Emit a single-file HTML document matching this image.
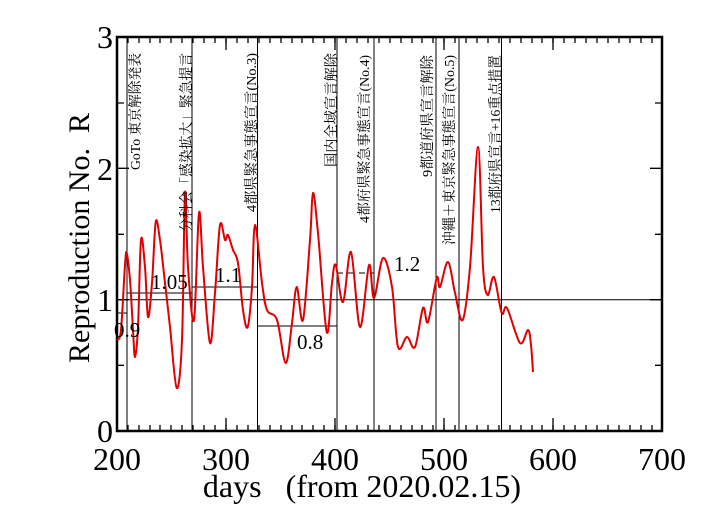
<!DOCTYPE html>
<html><head><meta charset="utf-8"><style>body{margin:0;background:#fff}svg{display:block;font-family:"Liberation Serif","Noto Serif CJK JP",serif}</style></head><body>
<svg width="703" height="509" viewBox="0 0 703 509" xmlns="http://www.w3.org/2000/svg">
<rect width="703" height="509" fill="#fff"/>
<g stroke="#000" stroke-width="1">
<line x1="127" y1="37" x2="127" y2="431"/>
<line x1="192" y1="37" x2="192" y2="431"/>
<line x1="257.5" y1="37" x2="257.5" y2="431"/>
<line x1="337" y1="37" x2="337" y2="431"/>
<line x1="374" y1="37" x2="374" y2="431"/>
<line x1="436" y1="37" x2="436" y2="431"/>
<line x1="459" y1="37" x2="459" y2="431"/>
<line x1="501.5" y1="37" x2="501.5" y2="431"/>
<line x1="117" y1="299.7" x2="662" y2="299.7"/>
<line x1="117" y1="313" x2="127" y2="313"/>
<line x1="127" y1="293" x2="192" y2="293"/>
<line x1="192" y1="287" x2="257.5" y2="287"/>
<line x1="257.5" y1="326" x2="337" y2="326"/>
<line x1="337" y1="273" x2="374" y2="273" stroke-dasharray="6,5"/>
</g>
<g stroke="#000" stroke-width="1.3">
<path d="M117 431V425M128 431V425M139 431V425M150 431V425M160 431V425M171 431V425M182 431V425M193 431V425M204 431V425M215 431V425M226 431V425M237 431V425M248 431V425M259 431V425M270 431V425M281 431V425M292 431V425M302 431V425M313 431V425M324 431V425M335 431V425M346 431V425M357 431V425M368 431V425M379 431V425M390 431V425M401 431V425M412 431V425M422 431V425M433 431V425M444 431V425M455 431V425M466 431V425M477 431V425M488 431V425M499 431V425M510 431V425M521 431V425M532 431V425M542 431V425M553 431V425M564 431V425M575 431V425M586 431V425M597 431V425M608 431V425M619 431V425M630 431V425M641 431V425M652 431V425"/>
<path d="M226 431V418M335 431V418M444 431V418M553 431V418"/>
<path d="M117 37V43M128 37V43M139 37V43M150 37V43M160 37V43M171 37V43M182 37V43M193 37V43M204 37V43M215 37V43M226 37V43M237 37V43M248 37V43M259 37V43M270 37V43M281 37V43M292 37V43M302 37V43M313 37V43M324 37V43M335 37V43M346 37V43M357 37V43M368 37V43M379 37V43M390 37V43M401 37V43M412 37V43M422 37V43M433 37V43M444 37V43M455 37V43M466 37V43M477 37V43M488 37V43M499 37V43M510 37V43M521 37V43M532 37V43M542 37V43M553 37V43M564 37V43M575 37V43M586 37V43M597 37V43M608 37V43M619 37V43M630 37V43M641 37V43M652 37V43"/>
<path d="M226 37V50M335 37V50M444 37V50M553 37V50"/>
<path d="M117 365.3H124M117 234.3H124M117 103H124M117 299.7H129M117 168.3H129"/>
<path d="M662 365.3H655M662 234.3H655M662 103H655M662 299.7H650M662 168.3H650"/>
</g>
<rect x="117" y="37" width="545" height="394" fill="none" stroke="#000" stroke-width="2.5"/>
<path id="curve" fill="none" stroke="#e00000" stroke-width="2" stroke-linejoin="round" d=""/>
<g font-size="21" fill="#000">
<text x="114" y="337">0.9</text>
<text x="151" y="289">1.05</text>
<text x="215" y="282">1.1</text>
<text x="297" y="349">0.8</text>
<text x="394" y="271">1.2</text>
</g>
<g font-size="14" fill="#000">
<text transform="translate(140,170) rotate(-90)" textLength="117" lengthAdjust="spacingAndGlyphs">GoTo 東京解除発表</text>
<text transform="translate(191,232) rotate(-90)" textLength="179" lengthAdjust="spacingAndGlyphs">分科会「感染拡大」緊急提言</text>
<text transform="translate(256,212) rotate(-90)" textLength="159" lengthAdjust="spacingAndGlyphs">4都県緊急事態宣言(No.3)</text>
<text transform="translate(336,167) rotate(-90)" textLength="114" lengthAdjust="spacingAndGlyphs">国内全域宣言解除</text>
<text transform="translate(369,223) rotate(-90)" textLength="168" lengthAdjust="spacingAndGlyphs">4都府県緊急事態宣言(No.4)</text>
<text transform="translate(432,177) rotate(-90)" textLength="122" lengthAdjust="spacingAndGlyphs">9都道府県宣言解除</text>
<text transform="translate(454,245) rotate(-90)" textLength="190" lengthAdjust="spacingAndGlyphs">沖縄＋東京緊急事態宣言(No.5)</text>
<text transform="translate(500,213) rotate(-90)" textLength="158" lengthAdjust="spacingAndGlyphs">13都府県宣言+16重点措置</text>
</g>
<g font-size="32" fill="#000">
<text x="113" y="442" text-anchor="end">0</text>
<text x="113" y="311" text-anchor="end">1</text>
<text x="113" y="180" text-anchor="end">2</text>
<text x="113" y="48" text-anchor="end">3</text>
<text x="117" y="470" text-anchor="middle">200</text>
<text x="226" y="470" text-anchor="middle">300</text>
<text x="335" y="470" text-anchor="middle">400</text>
<text x="444" y="470" text-anchor="middle">500</text>
<text x="553" y="470" text-anchor="middle">600</text>
<text x="662" y="470" text-anchor="middle">700</text>
<text x="362" y="497" text-anchor="middle" xml:space="preserve">days   (from 2020.02.15)</text>
<text transform="translate(89,238) rotate(-90)" text-anchor="middle" font-size="30" xml:space="preserve">Reproduction No.  R</text>
</g>
</svg>
<script>
var pts=[[117,340],[121,330],[125,265],[126.7,253],[130,280],[133,330],[135,357],[138,327],[141,240],[145,267],[148,317],[152,283],[155.7,222],[160,240],[165,283],[170,327],[176.7,388],[182,340],[185,193],[188,267],[194,320],[199,213],[203,267],[210,343],[215,293],[220,225],[225,240],[228,235],[233,250],[238,263],[243,310],[247.7,327],[252,287],[255,225],[262,283],[267,310],[277,320],[285.7,363],[292,323],[296.7,287],[303,320],[310,240],[313,193],[318,233],[326.7,332],[332,283],[335.7,265],[343,302],[351,252],[360,327],[369,265],[374,298],[383,258],[392,287],[398,347],[407,337],[415,347],[423,308],[428,322],[436.7,278],[440,287],[448,262],[455,293],[462.7,320],[470,267],[478,147],[483,267],[487.7,295],[494,277],[501.7,313],[507,308],[520,343],[528,330],[531,345],[533,372]];
var d="M"+pts[0][0]+","+pts[0][1];
for(var i=0;i<pts.length-1;i++){var p0=pts[i-1]||pts[i],p1=pts[i],p2=pts[i+1],p3=pts[i+2]||p2;
var c1x=p1[0]+(p2[0]-p0[0])/6,c1y=p1[1]+(p2[1]-p0[1])/6,c2x=p2[0]-(p3[0]-p1[0])/6,c2y=p2[1]-(p3[1]-p1[1])/6;
d+=" C"+c1x.toFixed(1)+","+c1y.toFixed(1)+" "+c2x.toFixed(1)+","+c2y.toFixed(1)+" "+p2[0]+","+p2[1];}
document.getElementById("curve").setAttribute("d",d);
</script>
</body></html>
